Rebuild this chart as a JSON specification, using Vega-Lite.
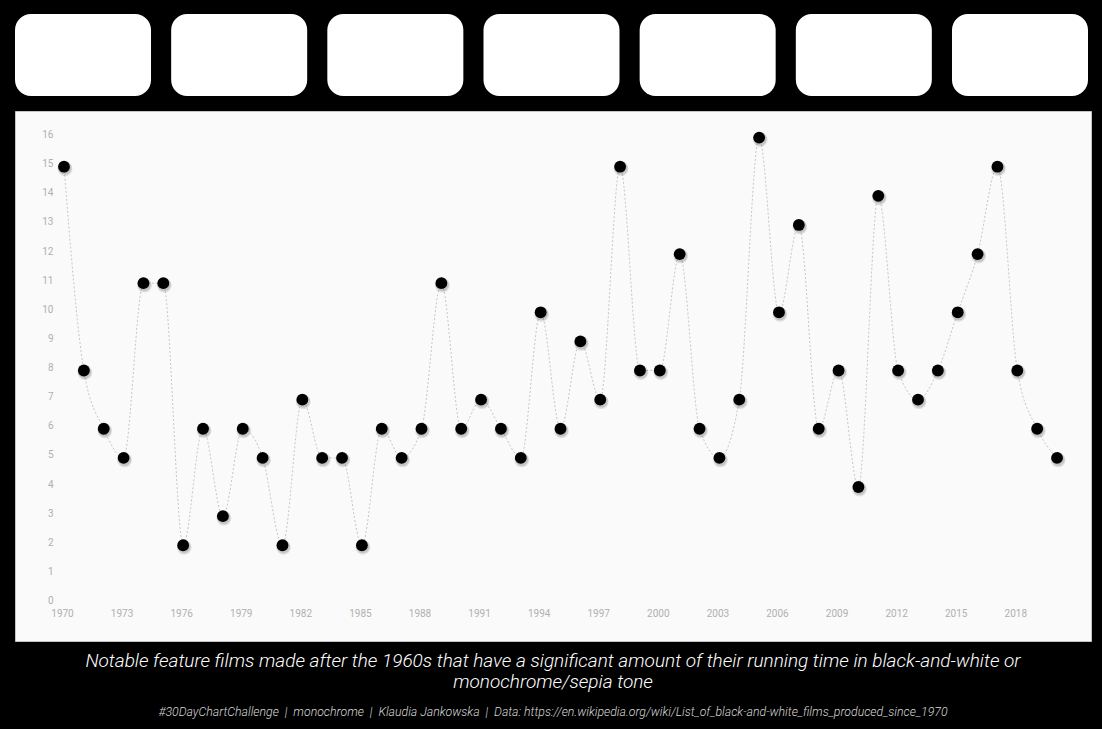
{
  "$schema": "https://vega.github.io/schema/vega-lite/v6.json",
  "background": "#000000",
  "padding": {"left": 14, "top": 14, "right": 12, "bottom": 20},
  "spacing": 14,
  "config": {
    "font": "Roboto",
    "concat": {"spacing": 14}
  },
  "title": {
    "text": ["Notable feature films made after the 1960s that have a significant amount of their running time in black-and-white or", "monochrome/sepia tone"],
    "subtitle": "#30DayChartChallenge\u00a0\u00a0|\u00a0\u00a0monochrome\u00a0\u00a0|\u00a0\u00a0Klaudia Jankowska\u00a0\u00a0|\u00a0\u00a0Data: https://en.wikipedia.org/wiki/List_of_black-and-white_films_produced_since_1970",
    "orient": "bottom",
    "anchor": "middle",
    "font": "Roboto",
    "fontSize": 19,
    "fontStyle": "italic",
    "fontWeight": 300,
    "color": "#ffffff",
    "lineHeight": 21,
    "offset": 10,
    "subtitleFont": "Roboto",
    "subtitleFontSize": 12.3,
    "subtitleFontStyle": "italic",
    "subtitleFontWeight": 300,
    "subtitleColor": "#d8d8d8",
    "subtitlePadding": 14
  },
  "vconcat": [
    {
      "width": 1073,
      "height": 82,
      "view": {"stroke": null},
      "data": {"values": [{"hole": 1}, {"hole": 2}, {"hole": 3}, {"hole": 4}, {"hole": 5}, {"hole": 6}, {"hole": 7}]},
      "mark": {"type": "bar", "color": "#ffffff", "cornerRadius": 16},
      "encoding": {
        "x": {"field": "hole", "type": "nominal", "axis": null, "scale": {"paddingInner": 0.129, "paddingOuter": 0}}
      }
    },
    {
      "width": 1076,
      "height": 530,
      "view": {"fill": "#fafafa", "stroke": "#c4c4c4", "strokeWidth": 1},
      "data": {"values": [
        {"year": 1970, "films": 15}, {"year": 1971, "films": 8}, {"year": 1972, "films": 6}, {"year": 1973, "films": 5},
        {"year": 1974, "films": 11}, {"year": 1975, "films": 11}, {"year": 1976, "films": 2}, {"year": 1977, "films": 6},
        {"year": 1978, "films": 3}, {"year": 1979, "films": 6}, {"year": 1980, "films": 5}, {"year": 1981, "films": 2},
        {"year": 1982, "films": 7}, {"year": 1983, "films": 5}, {"year": 1984, "films": 5}, {"year": 1985, "films": 2},
        {"year": 1986, "films": 6}, {"year": 1987, "films": 5}, {"year": 1988, "films": 6}, {"year": 1989, "films": 11},
        {"year": 1990, "films": 6}, {"year": 1991, "films": 7}, {"year": 1992, "films": 6}, {"year": 1993, "films": 5},
        {"year": 1994, "films": 10}, {"year": 1995, "films": 6}, {"year": 1996, "films": 9}, {"year": 1997, "films": 7},
        {"year": 1998, "films": 15}, {"year": 1999, "films": 8}, {"year": 2000, "films": 8}, {"year": 2001, "films": 12},
        {"year": 2002, "films": 6}, {"year": 2003, "films": 5}, {"year": 2004, "films": 7}, {"year": 2005, "films": 16},
        {"year": 2006, "films": 10}, {"year": 2007, "films": 13}, {"year": 2008, "films": 6}, {"year": 2009, "films": 8},
        {"year": 2010, "films": 4}, {"year": 2011, "films": 14}, {"year": 2012, "films": 8}, {"year": 2013, "films": 7},
        {"year": 2014, "films": 8}, {"year": 2015, "films": 10}, {"year": 2016, "films": 12}, {"year": 2017, "films": 15},
        {"year": 2018, "films": 8}, {"year": 2019, "films": 6}, {"year": 2020, "films": 5}
      ]},
      "encoding": {
        "x": {
          "field": "year", "type": "quantitative",
          "scale": {"domain": [1967.533, 2021.71], "nice": false, "zero": false},
          "axis": {
            "title": null, "values": [1970, 1973, 1976, 1979, 1982, 1985, 1988, 1991, 1994, 1997, 2000, 2003, 2006, 2009, 2012, 2015, 2018],
            "format": "d", "grid": false, "domain": false, "ticks": false, "offset": -33, "labelPadding": 0,
            "labelOffset": -2, "labelColor": "#b0b0b0", "labelFontSize": 10, "labelFont": "Roboto"
          }
        },
        "y": {
          "field": "films", "type": "quantitative",
          "scale": {"domain": [-1.288, 16.913], "nice": false, "zero": false},
          "axis": {
            "title": null, "values": [0, 1, 2, 3, 4, 5, 6, 7, 8, 9, 10, 11, 12, 13, 14, 15, 16],
            "grid": false, "domain": false, "ticks": false, "offset": -40, "labelPadding": 2,
            "labelOffset": -3, "labelColor": "#b0b0b0", "labelFontSize": 10, "labelFont": "Roboto"
          }
        }
      },
      "layer": [
        {"mark": {"type": "line", "interpolate": "monotone", "color": "#c6c6c6", "strokeWidth": 1, "strokeDash": [2, 2]}},
        {"mark": {"type": "circle", "color": "#000000", "opacity": 0.1, "size": 220, "xOffset": 1, "yOffset": 2}},
        {"mark": {"type": "circle", "color": "#000000", "opacity": 0.12, "size": 170, "xOffset": 1, "yOffset": 1.5}},
        {"mark": {"type": "circle", "color": "#000000", "opacity": 1, "size": 140}}
      ]
    }
  ]
}
